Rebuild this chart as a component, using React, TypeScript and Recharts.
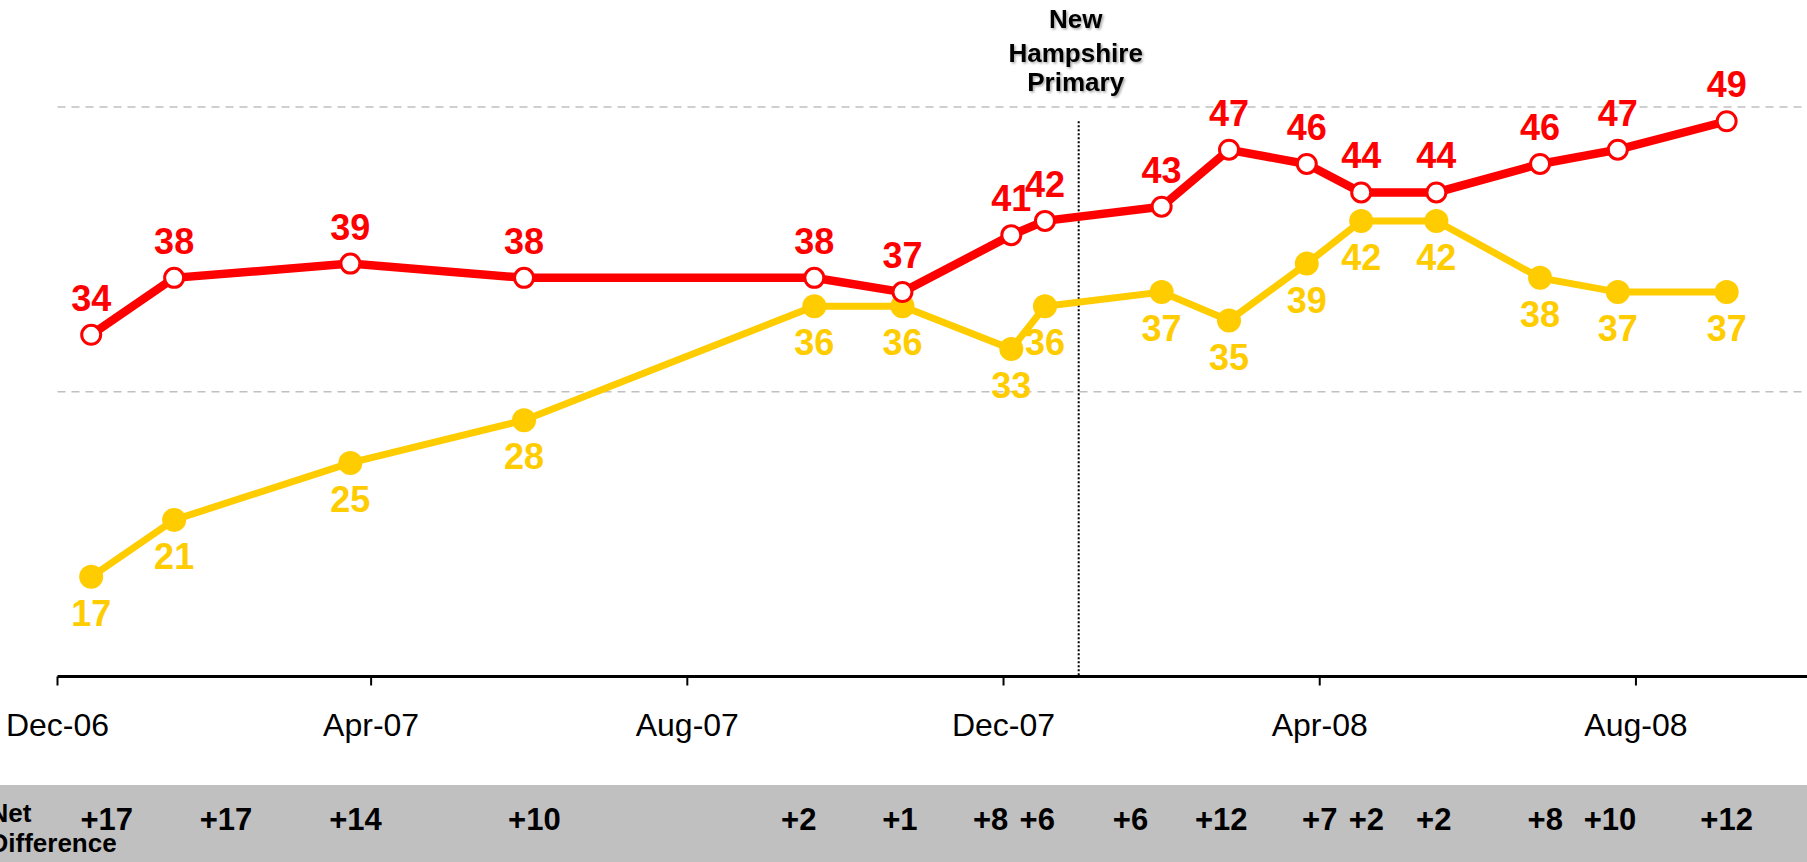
import { LineChart, Line, XAxis, YAxis, ReferenceLine, LabelList } from "recharts";

const pollDates = [
  "2006-12-14", "2007-01-15", "2007-03-24", "2007-05-30", "2007-09-19", "2007-10-23",
  "2007-12-04", "2007-12-17", "2008-01-31", "2008-02-26", "2008-03-27", "2008-04-17",
  "2008-05-16", "2008-06-25", "2008-07-25", "2008-09-05",
];
const redValues = [34, 38, 39, 38, 38, 37, 41, 42, 43, 47, 46, 44, 44, 46, 47, 49];
const yellowValues = [17, 21, 25, 28, 36, 36, 33, 36, 37, 35, 39, 42, 42, 38, 37, 37];

// where the "Net Difference" numbers sit along the time axis
const netLabelDates = [
  "2006-12-20", "2007-02-04", "2007-03-26", "2007-06-03", "2007-09-13", "2007-10-22",
  "2007-11-26", "2007-12-14", "2008-01-19", "2008-02-23", "2008-04-01", "2008-04-19",
  "2008-05-15", "2008-06-27", "2008-07-22", "2008-09-05",
];

const monthTickDates = ["2006-12-01", "2007-04-01", "2007-08-01", "2007-12-01", "2008-04-01", "2008-08-01"];
const monthTickLabels = ["Dec-06", "Apr-07", "Aug-07", "Dec-07", "Apr-08", "Aug-08"];

const primaryDate = "2007-12-30";
const primaryLabel = ["New", "Hampshire", "Primary"];

const xStart = "2006-12-01";
const xEnd = "2008-10-06";

const FONT = '"Liberation Sans", Arial, sans-serif';
const RED = "#ff0000";
const YELLOW = "#ffcc00";

const ts = (s: string) => Date.parse(s + "T00:00:00Z");

const data = pollDates.map((d, i) => ({ t: ts(d), red: redValues[i], yellow: yellowValues[i] }));
const netDiffs = redValues.map((v, i) => v - yellowValues[i]);
const netTicks = netLabelDates.map(ts);
const monthTicks = monthTickDates.map(ts);

function MonthTick(props: any) {
  const { x, y, payload } = props;
  const i = monthTicks.indexOf(payload.value);
  return (
    <text x={x} y={y + 50} textAnchor="middle" fontSize={32} fontFamily={FONT} fill="#000">
      {monthTickLabels[i]}
    </text>
  );
}

function NetTick(props: any) {
  const { x, y, payload } = props;
  const i = netTicks.indexOf(payload.value);
  return (
    <text x={x} y={y + 45} textAnchor="middle" fontSize={31} fontWeight="bold" fontFamily={FONT} fill="#000">
      {"+" + netDiffs[i]}
    </text>
  );
}

function RedLabel(props: any) {
  const { x, y, value } = props;
  return (
    <text x={x} y={y - 24} textAnchor="middle" fontSize={36} fontWeight="bold" fontFamily={FONT} fill={RED}>
      {value}
    </text>
  );
}

function YellowLabel(props: any) {
  const { x, y, value } = props;
  return (
    <text x={x} y={y + 49} textAnchor="middle" fontSize={36} fontWeight="bold" fontFamily={FONT} fill={YELLOW}>
      {value}
    </text>
  );
}

function PrimaryText(props: any) {
  const vb = props.viewBox || {};
  const cx = vb.x - 3;
  const top = vb.y;
  const offsets = [-79, -45, -16];
  return (
    <g filter="url(#nh-shadow)">
      {primaryLabel.map((s, i) => (
        <text key={s} x={cx} y={top + offsets[i]} textAnchor="middle" fontSize={26} fontWeight="bold" fontFamily={FONT} fill="#000">
          {s}
        </text>
      ))}
    </g>
  );
}

export default function App() {
  return (
    <div style={{ position: "absolute", left: 0, top: 0, width: 1807, height: 862, background: "#fff", overflow: "hidden" }}>
      {/* grey band behind the net difference row */}
      <div style={{ position: "absolute", left: 0, top: 785, width: 1807, height: 77, background: "#c0c0c0" }} />
      <div
        style={{
          position: "absolute",
          left: -10.5,
          top: 797.7,
          fontFamily: FONT,
          fontWeight: "bold",
          fontSize: 26,
          lineHeight: "30px",
          color: "#000",
        }}
      >
        Net
        <br />
        Difference
      </div>
      <div style={{ position: "absolute", left: 0, top: 0 }}>
        <LineChart width={1807} height={862} data={data} margin={{ top: 107, right: 0, bottom: 0, left: 57.5 }}>
          <defs>
            <filter id="nh-shadow" x="-10%" y="-10%" width="130%" height="130%">
              <feDropShadow dx="1.5" dy="1.5" stdDeviation="1" floodColor="#000" floodOpacity="0.35" />
            </filter>
          </defs>
          <XAxis
            dataKey="t"
            type="number"
            domain={[ts(xStart), ts(xEnd)]}
            ticks={monthTicks}
            tick={<MonthTick />}
            tickSize={9}
            tickMargin={0}
            height={108.5}
            axisLine={{ stroke: "#000", strokeWidth: 3 }}
            tickLine={{ stroke: "#000", strokeWidth: 2 }}
            interval={0}
            allowDataOverflow
          />
          <XAxis
            xAxisId="net"
            dataKey="t"
            type="number"
            domain={[ts(xStart), ts(xEnd)]}
            ticks={netTicks}
            tick={<NetTick />}
            tickSize={0}
            tickMargin={0}
            height={77}
            axisLine={false}
            tickLine={false}
            interval={0}
            allowDataOverflow
          />
          <YAxis hide domain={[10, 50]} />
          <ReferenceLine y={50} stroke="#c0c0c0" strokeWidth={1.5} strokeDasharray="8 6" />
          <ReferenceLine y={30} stroke="#c0c0c0" strokeWidth={1.5} strokeDasharray="8 6" />
          <ReferenceLine
            segment={[
              { x: ts(primaryDate), y: 49 },
              { x: ts(primaryDate), y: 10 },
            ]}
            stroke="#000"
            strokeWidth={2}
            strokeDasharray="2 2"
          />
          <ReferenceLine x={ts(primaryDate)} stroke="none" label={<PrimaryText />} />
          <Line
            dataKey="yellow"
            stroke={YELLOW}
            strokeWidth={7}
            dot={{ r: 12, fill: YELLOW, stroke: YELLOW, strokeWidth: 0 }}
            activeDot={false}
            isAnimationActive={false}
          >
            <LabelList dataKey="yellow" content={<YellowLabel />} />
          </Line>
          <Line
            dataKey="red"
            stroke={RED}
            strokeWidth={8.5}
            dot={{ r: 9.5, fill: "#fff", stroke: RED, strokeWidth: 3 }}
            activeDot={false}
            isAnimationActive={false}
          >
            <LabelList dataKey="red" content={<RedLabel />} />
          </Line>
        </LineChart>
      </div>
    </div>
  );
}
